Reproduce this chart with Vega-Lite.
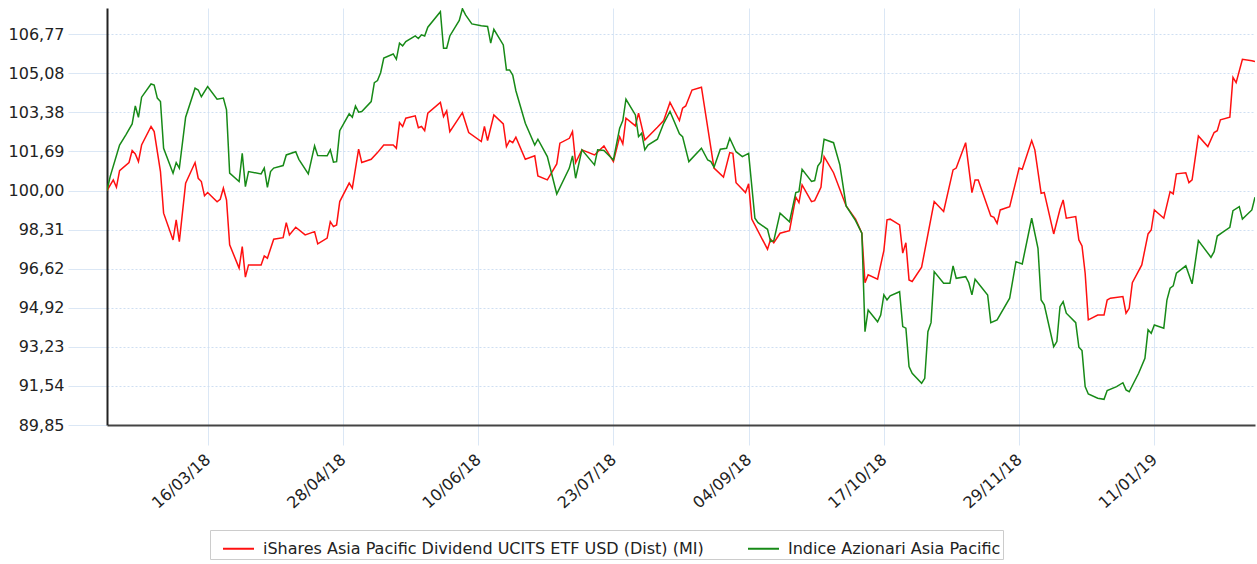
{
  "$schema": "https://vega.github.io/schema/vega-lite/v6.json",
  "autosize": {"type": "none"},
  "width": 1148,
  "height": 417,
  "padding": {"left": 107, "top": 8, "right": 2, "bottom": 139},
  "background": "#ffffff",
  "config": {"view": {"stroke": null}, "font": "DejaVu Sans"},
  "data": {"values": [
    {"d":"2018-02-12","s":"R","v":100.00},{"d":"2018-02-14","s":"R","v":100.46},{"d":"2018-02-15","s":"R","v":100.14},{"d":"2018-02-16","s":"R","v":100.86},{"d":"2018-02-19","s":"R","v":101.21},{"d":"2018-02-20","s":"R","v":101.73},{"d":"2018-02-21","s":"R","v":101.58},{"d":"2018-02-22","s":"R","v":101.25},{"d":"2018-02-23","s":"R","v":101.97},{"d":"2018-02-26","s":"R","v":102.77},{"d":"2018-02-27","s":"R","v":102.55},{"d":"2018-03-01","s":"R","v":100.82},{"d":"2018-03-02","s":"R","v":99.02},{"d":"2018-03-05","s":"R","v":97.86},{"d":"2018-03-06","s":"R","v":98.73},{"d":"2018-03-07","s":"R","v":97.79},{"d":"2018-03-09","s":"R","v":100.32},{"d":"2018-03-12","s":"R","v":101.21},{"d":"2018-03-13","s":"R","v":100.53},{"d":"2018-03-14","s":"R","v":100.39},{"d":"2018-03-15","s":"R","v":99.77},{"d":"2018-03-16","s":"R","v":99.91},{"d":"2018-03-19","s":"R","v":99.51},{"d":"2018-03-20","s":"R","v":99.62},{"d":"2018-03-21","s":"R","v":100.10},{"d":"2018-03-22","s":"R","v":99.59},{"d":"2018-03-23","s":"R","v":97.65},{"d":"2018-03-26","s":"R","v":96.64},{"d":"2018-03-27","s":"R","v":97.57},{"d":"2018-03-28","s":"R","v":96.25},{"d":"2018-03-29","s":"R","v":96.78},{"d":"2018-04-02","s":"R","v":96.78},{"d":"2018-04-03","s":"R","v":97.17},{"d":"2018-04-04","s":"R","v":97.07},{"d":"2018-04-06","s":"R","v":97.89},{"d":"2018-04-09","s":"R","v":97.96},{"d":"2018-04-10","s":"R","v":98.61},{"d":"2018-04-11","s":"R","v":98.08},{"d":"2018-04-13","s":"R","v":98.41},{"d":"2018-04-16","s":"R","v":98.08},{"d":"2018-04-19","s":"R","v":98.22},{"d":"2018-04-20","s":"R","v":97.69},{"d":"2018-04-23","s":"R","v":97.94},{"d":"2018-04-24","s":"R","v":98.65},{"d":"2018-04-25","s":"R","v":98.44},{"d":"2018-04-26","s":"R","v":98.51},{"d":"2018-04-27","s":"R","v":99.52},{"d":"2018-04-30","s":"R","v":100.32},{"d":"2018-05-01","s":"R","v":100.10},{"d":"2018-05-03","s":"R","v":101.79},{"d":"2018-05-04","s":"R","v":101.21},{"d":"2018-05-07","s":"R","v":101.35},{"d":"2018-05-09","s":"R","v":101.64},{"d":"2018-05-11","s":"R","v":101.97},{"d":"2018-05-14","s":"R","v":101.97},{"d":"2018-05-15","s":"R","v":101.83},{"d":"2018-05-16","s":"R","v":102.94},{"d":"2018-05-17","s":"R","v":102.77},{"d":"2018-05-18","s":"R","v":103.13},{"d":"2018-05-21","s":"R","v":103.23},{"d":"2018-05-22","s":"R","v":102.72},{"d":"2018-05-23","s":"R","v":102.77},{"d":"2018-05-24","s":"R","v":102.59},{"d":"2018-05-25","s":"R","v":103.35},{"d":"2018-05-29","s":"R","v":103.81},{"d":"2018-05-30","s":"R","v":103.20},{"d":"2018-05-31","s":"R","v":103.45},{"d":"2018-06-01","s":"R","v":102.55},{"d":"2018-06-05","s":"R","v":103.37},{"d":"2018-06-07","s":"R","v":102.51},{"d":"2018-06-11","s":"R","v":102.12},{"d":"2018-06-12","s":"R","v":102.77},{"d":"2018-06-13","s":"R","v":102.16},{"d":"2018-06-15","s":"R","v":103.27},{"d":"2018-06-18","s":"R","v":102.88},{"d":"2018-06-19","s":"R","v":101.90},{"d":"2018-06-20","s":"R","v":102.16},{"d":"2018-06-21","s":"R","v":102.07},{"d":"2018-06-22","s":"R","v":102.31},{"d":"2018-06-25","s":"R","v":101.35},{"d":"2018-06-28","s":"R","v":101.50},{"d":"2018-06-29","s":"R","v":100.63},{"d":"2018-07-02","s":"R","v":100.46},{"d":"2018-07-05","s":"R","v":101.15},{"d":"2018-07-06","s":"R","v":102.05},{"d":"2018-07-09","s":"R","v":102.26},{"d":"2018-07-10","s":"R","v":102.55},{"d":"2018-07-11","s":"R","v":101.21},{"d":"2018-07-13","s":"R","v":101.76},{"d":"2018-07-17","s":"R","v":101.54},{"d":"2018-07-20","s":"R","v":101.93},{"d":"2018-07-23","s":"R","v":101.25},{"d":"2018-07-25","s":"R","v":102.33},{"d":"2018-07-26","s":"R","v":102.02},{"d":"2018-07-27","s":"R","v":103.13},{"d":"2018-07-30","s":"R","v":102.80},{"d":"2018-07-31","s":"R","v":103.35},{"d":"2018-08-02","s":"R","v":102.19},{"d":"2018-08-06","s":"R","v":102.74},{"d":"2018-08-08","s":"R","v":103.03},{"d":"2018-08-10","s":"R","v":103.81},{"d":"2018-08-13","s":"R","v":103.03},{"d":"2018-08-14","s":"R","v":103.56},{"d":"2018-08-15","s":"R","v":103.66},{"d":"2018-08-17","s":"R","v":104.35},{"d":"2018-08-20","s":"R","v":104.47},{"d":"2018-08-24","s":"R","v":100.97},{"d":"2018-08-27","s":"R","v":100.58},{"d":"2018-08-29","s":"R","v":101.64},{"d":"2018-08-30","s":"R","v":101.61},{"d":"2018-08-31","s":"R","v":100.34},{"d":"2018-09-03","s":"R","v":99.91},{"d":"2018-09-04","s":"R","v":100.29},{"d":"2018-09-05","s":"R","v":98.76},{"d":"2018-09-10","s":"R","v":97.46},{"d":"2018-09-11","s":"R","v":97.89},{"d":"2018-09-12","s":"R","v":97.74},{"d":"2018-09-14","s":"R","v":98.15},{"d":"2018-09-17","s":"R","v":98.26},{"d":"2018-09-19","s":"R","v":99.71},{"d":"2018-09-20","s":"R","v":99.48},{"d":"2018-09-21","s":"R","v":100.24},{"d":"2018-09-24","s":"R","v":99.52},{"d":"2018-09-25","s":"R","v":99.56},{"d":"2018-09-27","s":"R","v":100.14},{"d":"2018-09-28","s":"R","v":101.47},{"d":"2018-10-01","s":"R","v":100.77},{"d":"2018-10-05","s":"R","v":99.33},{"d":"2018-10-08","s":"R","v":98.76},{"d":"2018-10-10","s":"R","v":98.15},{"d":"2018-10-11","s":"R","v":96.01},{"d":"2018-10-12","s":"R","v":96.35},{"d":"2018-10-15","s":"R","v":96.16},{"d":"2018-10-17","s":"R","v":97.40},{"d":"2018-10-18","s":"R","v":98.73},{"d":"2018-10-19","s":"R","v":98.76},{"d":"2018-10-22","s":"R","v":98.51},{"d":"2018-10-23","s":"R","v":97.29},{"d":"2018-10-24","s":"R","v":97.74},{"d":"2018-10-25","s":"R","v":96.13},{"d":"2018-10-26","s":"R","v":96.06},{"d":"2018-10-29","s":"R","v":96.68},{"d":"2018-11-02","s":"R","v":99.52},{"d":"2018-11-05","s":"R","v":99.09},{"d":"2018-11-08","s":"R","v":100.89},{"d":"2018-11-09","s":"R","v":100.97},{"d":"2018-11-12","s":"R","v":102.07},{"d":"2018-11-14","s":"R","v":99.91},{"d":"2018-11-15","s":"R","v":100.46},{"d":"2018-11-16","s":"R","v":100.46},{"d":"2018-11-20","s":"R","v":98.90},{"d":"2018-11-21","s":"R","v":98.84},{"d":"2018-11-22","s":"R","v":98.58},{"d":"2018-11-23","s":"R","v":99.16},{"d":"2018-11-26","s":"R","v":99.30},{"d":"2018-11-29","s":"R","v":100.97},{"d":"2018-11-30","s":"R","v":100.92},{"d":"2018-12-03","s":"R","v":102.16},{"d":"2018-12-04","s":"R","v":101.76},{"d":"2018-12-06","s":"R","v":99.88},{"d":"2018-12-07","s":"R","v":99.91},{"d":"2018-12-10","s":"R","v":98.12},{"d":"2018-12-12","s":"R","v":99.19},{"d":"2018-12-13","s":"R","v":99.59},{"d":"2018-12-14","s":"R","v":98.80},{"d":"2018-12-17","s":"R","v":98.87},{"d":"2018-12-18","s":"R","v":97.86},{"d":"2018-12-19","s":"R","v":97.60},{"d":"2018-12-20","s":"R","v":96.42},{"d":"2018-12-21","s":"R","v":94.40},{"d":"2018-12-24","s":"R","v":94.61},{"d":"2018-12-26","s":"R","v":94.61},{"d":"2018-12-27","s":"R","v":95.26},{"d":"2018-12-28","s":"R","v":95.34},{"d":"2019-01-01","s":"R","v":95.41},{"d":"2019-01-02","s":"R","v":94.69},{"d":"2019-01-03","s":"R","v":94.90},{"d":"2019-01-04","s":"R","v":96.01},{"d":"2019-01-07","s":"R","v":96.78},{"d":"2019-01-09","s":"R","v":98.12},{"d":"2019-01-10","s":"R","v":98.29},{"d":"2019-01-11","s":"R","v":99.16},{"d":"2019-01-14","s":"R","v":98.80},{"d":"2019-01-16","s":"R","v":99.95},{"d":"2019-01-17","s":"R","v":99.85},{"d":"2019-01-18","s":"R","v":100.72},{"d":"2019-01-21","s":"R","v":100.77},{"d":"2019-01-22","s":"R","v":100.34},{"d":"2019-01-23","s":"R","v":100.46},{"d":"2019-01-25","s":"R","v":102.36},{"d":"2019-01-28","s":"R","v":101.90},{"d":"2019-01-30","s":"R","v":102.51},{"d":"2019-01-31","s":"R","v":102.59},{"d":"2019-02-01","s":"R","v":103.06},{"d":"2019-02-04","s":"R","v":103.17},{"d":"2019-02-05","s":"R","v":104.90},{"d":"2019-02-06","s":"R","v":104.67},{"d":"2019-02-08","s":"R","v":105.68},{"d":"2019-02-11","s":"R","v":105.62},{"d":"2019-02-12","s":"R","v":105.58},
    {"d":"2018-02-12","s":"G","v":100.00},{"d":"2018-02-13","s":"G","v":100.60},{"d":"2018-02-16","s":"G","v":101.97},{"d":"2018-02-18","s":"G","v":102.41},{"d":"2018-02-20","s":"G","v":102.88},{"d":"2018-02-21","s":"G","v":103.66},{"d":"2018-02-22","s":"G","v":103.17},{"d":"2018-02-23","s":"G","v":104.04},{"d":"2018-02-26","s":"G","v":104.61},{"d":"2018-02-27","s":"G","v":104.56},{"d":"2018-02-28","s":"G","v":104.00},{"d":"2018-03-01","s":"G","v":103.85},{"d":"2018-03-02","s":"G","v":101.83},{"d":"2018-03-05","s":"G","v":100.75},{"d":"2018-03-06","s":"G","v":101.21},{"d":"2018-03-07","s":"G","v":100.97},{"d":"2018-03-09","s":"G","v":103.17},{"d":"2018-03-12","s":"G","v":104.43},{"d":"2018-03-13","s":"G","v":104.35},{"d":"2018-03-14","s":"G","v":104.06},{"d":"2018-03-16","s":"G","v":104.50},{"d":"2018-03-19","s":"G","v":103.95},{"d":"2018-03-21","s":"G","v":104.00},{"d":"2018-03-22","s":"G","v":103.49},{"d":"2018-03-23","s":"G","v":100.75},{"d":"2018-03-26","s":"G","v":100.39},{"d":"2018-03-27","s":"G","v":101.61},{"d":"2018-03-28","s":"G","v":100.17},{"d":"2018-03-29","s":"G","v":100.82},{"d":"2018-04-02","s":"G","v":100.72},{"d":"2018-04-03","s":"G","v":100.97},{"d":"2018-04-04","s":"G","v":100.14},{"d":"2018-04-05","s":"G","v":100.82},{"d":"2018-04-06","s":"G","v":100.97},{"d":"2018-04-09","s":"G","v":101.08},{"d":"2018-04-10","s":"G","v":101.54},{"d":"2018-04-13","s":"G","v":101.68},{"d":"2018-04-14","s":"G","v":101.35},{"d":"2018-04-17","s":"G","v":100.72},{"d":"2018-04-19","s":"G","v":101.93},{"d":"2018-04-20","s":"G","v":101.51},{"d":"2018-04-23","s":"G","v":101.50},{"d":"2018-04-24","s":"G","v":101.76},{"d":"2018-04-25","s":"G","v":101.23},{"d":"2018-04-26","s":"G","v":101.25},{"d":"2018-04-27","s":"G","v":102.59},{"d":"2018-04-30","s":"G","v":103.32},{"d":"2018-05-01","s":"G","v":103.17},{"d":"2018-05-02","s":"G","v":103.66},{"d":"2018-05-03","s":"G","v":103.39},{"d":"2018-05-04","s":"G","v":103.42},{"d":"2018-05-07","s":"G","v":103.85},{"d":"2018-05-08","s":"G","v":104.67},{"d":"2018-05-09","s":"G","v":104.76},{"d":"2018-05-10","s":"G","v":105.10},{"d":"2018-05-11","s":"G","v":105.73},{"d":"2018-05-14","s":"G","v":105.91},{"d":"2018-05-15","s":"G","v":105.68},{"d":"2018-05-16","s":"G","v":106.38},{"d":"2018-05-17","s":"G","v":106.26},{"d":"2018-05-18","s":"G","v":106.45},{"d":"2018-05-21","s":"G","v":106.69},{"d":"2018-05-22","s":"G","v":106.58},{"d":"2018-05-23","s":"G","v":106.74},{"d":"2018-05-24","s":"G","v":106.69},{"d":"2018-05-25","s":"G","v":107.07},{"d":"2018-05-29","s":"G","v":107.74},{"d":"2018-05-30","s":"G","v":106.16},{"d":"2018-05-31","s":"G","v":106.16},{"d":"2018-06-01","s":"G","v":106.69},{"d":"2018-06-04","s":"G","v":107.36},{"d":"2018-06-05","s":"G","v":107.87},{"d":"2018-06-06","s":"G","v":107.60},{"d":"2018-06-08","s":"G","v":107.21},{"d":"2018-06-11","s":"G","v":107.13},{"d":"2018-06-13","s":"G","v":107.10},{"d":"2018-06-14","s":"G","v":106.38},{"d":"2018-06-15","s":"G","v":106.98},{"d":"2018-06-18","s":"G","v":106.30},{"d":"2018-06-19","s":"G","v":105.22},{"d":"2018-06-20","s":"G","v":105.22},{"d":"2018-06-21","s":"G","v":105.00},{"d":"2018-06-22","s":"G","v":104.32},{"d":"2018-06-25","s":"G","v":102.91},{"d":"2018-06-28","s":"G","v":101.97},{"d":"2018-06-29","s":"G","v":102.22},{"d":"2018-07-02","s":"G","v":101.47},{"d":"2018-07-05","s":"G","v":99.85},{"d":"2018-07-09","s":"G","v":100.97},{"d":"2018-07-10","s":"G","v":101.50},{"d":"2018-07-11","s":"G","v":100.53},{"d":"2018-07-13","s":"G","v":101.76},{"d":"2018-07-17","s":"G","v":101.11},{"d":"2018-07-18","s":"G","v":101.76},{"d":"2018-07-20","s":"G","v":101.73},{"d":"2018-07-23","s":"G","v":101.32},{"d":"2018-07-25","s":"G","v":102.70},{"d":"2018-07-26","s":"G","v":103.03},{"d":"2018-07-27","s":"G","v":103.95},{"d":"2018-07-30","s":"G","v":103.27},{"d":"2018-07-31","s":"G","v":102.33},{"d":"2018-08-01","s":"G","v":102.48},{"d":"2018-08-02","s":"G","v":101.76},{"d":"2018-08-03","s":"G","v":101.97},{"d":"2018-08-06","s":"G","v":102.22},{"d":"2018-08-08","s":"G","v":102.91},{"d":"2018-08-10","s":"G","v":103.42},{"d":"2018-08-13","s":"G","v":102.45},{"d":"2018-08-14","s":"G","v":102.33},{"d":"2018-08-16","s":"G","v":101.25},{"d":"2018-08-20","s":"G","v":101.83},{"d":"2018-08-22","s":"G","v":101.32},{"d":"2018-08-23","s":"G","v":101.25},{"d":"2018-08-24","s":"G","v":101.01},{"d":"2018-08-26","s":"G","v":101.79},{"d":"2018-08-28","s":"G","v":101.83},{"d":"2018-08-29","s":"G","v":102.26},{"d":"2018-08-31","s":"G","v":101.68},{"d":"2018-09-02","s":"G","v":101.47},{"d":"2018-09-04","s":"G","v":101.61},{"d":"2018-09-06","s":"G","v":98.80},{"d":"2018-09-07","s":"G","v":98.61},{"d":"2018-09-10","s":"G","v":98.32},{"d":"2018-09-11","s":"G","v":97.79},{"d":"2018-09-12","s":"G","v":97.83},{"d":"2018-09-14","s":"G","v":99.02},{"d":"2018-09-17","s":"G","v":98.65},{"d":"2018-09-19","s":"G","v":99.91},{"d":"2018-09-20","s":"G","v":99.95},{"d":"2018-09-21","s":"G","v":100.92},{"d":"2018-09-24","s":"G","v":100.39},{"d":"2018-09-25","s":"G","v":100.43},{"d":"2018-09-26","s":"G","v":101.06},{"d":"2018-09-27","s":"G","v":101.25},{"d":"2018-09-28","s":"G","v":102.22},{"d":"2018-10-01","s":"G","v":102.07},{"d":"2018-10-03","s":"G","v":101.11},{"d":"2018-10-05","s":"G","v":99.33},{"d":"2018-10-08","s":"G","v":98.70},{"d":"2018-10-10","s":"G","v":98.15},{"d":"2018-10-11","s":"G","v":93.89},{"d":"2018-10-12","s":"G","v":94.83},{"d":"2018-10-15","s":"G","v":94.32},{"d":"2018-10-16","s":"G","v":94.61},{"d":"2018-10-17","s":"G","v":95.48},{"d":"2018-10-18","s":"G","v":95.26},{"d":"2018-10-19","s":"G","v":95.44},{"d":"2018-10-22","s":"G","v":95.62},{"d":"2018-10-23","s":"G","v":94.11},{"d":"2018-10-24","s":"G","v":94.04},{"d":"2018-10-25","s":"G","v":92.38},{"d":"2018-10-26","s":"G","v":92.09},{"d":"2018-10-29","s":"G","v":91.66},{"d":"2018-10-30","s":"G","v":91.87},{"d":"2018-10-31","s":"G","v":93.89},{"d":"2018-11-01","s":"G","v":94.28},{"d":"2018-11-02","s":"G","v":96.49},{"d":"2018-11-05","s":"G","v":95.99},{"d":"2018-11-07","s":"G","v":95.99},{"d":"2018-11-08","s":"G","v":96.74},{"d":"2018-11-09","s":"G","v":96.20},{"d":"2018-11-12","s":"G","v":96.27},{"d":"2018-11-13","s":"G","v":96.01},{"d":"2018-11-14","s":"G","v":95.48},{"d":"2018-11-15","s":"G","v":96.16},{"d":"2018-11-19","s":"G","v":95.48},{"d":"2018-11-20","s":"G","v":94.28},{"d":"2018-11-22","s":"G","v":94.40},{"d":"2018-11-26","s":"G","v":95.34},{"d":"2018-11-28","s":"G","v":96.92},{"d":"2018-11-30","s":"G","v":96.82},{"d":"2018-12-03","s":"G","v":98.80},{"d":"2018-12-05","s":"G","v":97.50},{"d":"2018-12-06","s":"G","v":95.26},{"d":"2018-12-07","s":"G","v":95.05},{"d":"2018-12-10","s":"G","v":93.24},{"d":"2018-12-11","s":"G","v":93.46},{"d":"2018-12-12","s":"G","v":94.97},{"d":"2018-12-13","s":"G","v":95.19},{"d":"2018-12-14","s":"G","v":94.69},{"d":"2018-12-17","s":"G","v":94.28},{"d":"2018-12-18","s":"G","v":93.22},{"d":"2018-12-19","s":"G","v":93.07},{"d":"2018-12-20","s":"G","v":91.51},{"d":"2018-12-21","s":"G","v":91.19},{"d":"2018-12-24","s":"G","v":91.01},{"d":"2018-12-26","s":"G","v":90.96},{"d":"2018-12-27","s":"G","v":91.34},{"d":"2018-12-30","s":"G","v":91.51},{"d":"2019-01-01","s":"G","v":91.68},{"d":"2019-01-02","s":"G","v":91.37},{"d":"2019-01-03","s":"G","v":91.29},{"d":"2019-01-06","s":"G","v":92.09},{"d":"2019-01-08","s":"G","v":92.74},{"d":"2019-01-09","s":"G","v":93.97},{"d":"2019-01-10","s":"G","v":93.82},{"d":"2019-01-11","s":"G","v":94.18},{"d":"2019-01-14","s":"G","v":94.04},{"d":"2019-01-15","s":"G","v":95.26},{"d":"2019-01-16","s":"G","v":95.77},{"d":"2019-01-17","s":"G","v":95.87},{"d":"2019-01-18","s":"G","v":96.42},{"d":"2019-01-21","s":"G","v":96.74},{"d":"2019-01-23","s":"G","v":95.96},{"d":"2019-01-25","s":"G","v":97.83},{"d":"2019-01-29","s":"G","v":97.11},{"d":"2019-01-30","s":"G","v":97.35},{"d":"2019-01-31","s":"G","v":98.03},{"d":"2019-02-02","s":"G","v":98.22},{"d":"2019-02-04","s":"G","v":98.41},{"d":"2019-02-05","s":"G","v":99.13},{"d":"2019-02-07","s":"G","v":99.30},{"d":"2019-02-08","s":"G","v":98.76},{"d":"2019-02-11","s":"G","v":99.16},{"d":"2019-02-12","s":"G","v":99.71}
  ]},
  "mark": {"type": "line", "strokeWidth": 1.5, "clip": true},
  "encoding": {
    "x": {
      "field": "d", "type": "temporal",
      "scale": {"type": "utc", "domain": [{"year": 2018, "month": 2, "date": 12, "utc": true}, {"year": 2019, "month": 2, "date": 12, "utc": true}], "nice": false},
      "axis": {
        "title": null,
        "values": [
          {"year": 2018, "month": 3, "date": 16, "utc": true},
          {"year": 2018, "month": 4, "date": 28, "utc": true},
          {"year": 2018, "month": 6, "date": 10, "utc": true},
          {"year": 2018, "month": 7, "date": 23, "utc": true},
          {"year": 2018, "month": 9, "date": 4, "utc": true},
          {"year": 2018, "month": 10, "date": 17, "utc": true},
          {"year": 2018, "month": 11, "date": 29, "utc": true},
          {"year": 2019, "month": 1, "date": 11, "utc": true}
        ],
        "format": "%d/%m/%y",
        "labelAngle": -42, "labelAlign": "right", "labelBaseline": "middle",
        "labelOverlap": false, "labelFontSize": 16, "labelColor": "#222222",
        "labelPadding": 12,
        "grid": true, "gridColor": "#dbe7f5", "gridWidth": 1,
        "ticks": true, "tickColor": "#dbe7f5", "tickSize": 20,
        "domainColor": "#444444", "domainWidth": 2
      }
    },
    "y": {
      "field": "v", "type": "quantitative",
      "scale": {"domain": [89.85, 107.9], "nice": false, "zero": false},
      "axis": {
        "title": null,
        "values": [89.85, 91.54, 93.23, 94.92, 96.62, 98.31, 100, 101.69, 103.38, 105.08, 106.77],
        "labelExpr": "replace(format(datum.value, '.2f'), '.', ',')",
        "labelFontSize": 16, "labelColor": "#222222", "labelPadding": 4,
        "grid": true, "gridColor": "#cfdff2", "gridDash": [2, 2], "gridWidth": 1,
        "ticks": true, "tickColor": "#dbe7f5", "tickSize": 39,
        "domainColor": "#222222", "domainWidth": 2
      }
    },
    "color": {
      "field": "s", "type": "nominal",
      "scale": {"domain": ["R", "G"], "range": ["#ff1010", "#178a17"]},
      "legend": {
        "title": null, "orient": "none", "legendX": 103, "legendY": 522,
        "direction": "horizontal",
        "labelExpr": "datum.label == 'R' ? 'iShares Asia Pacific Dividend UCITS ETF USD (Dist) (MI)' : 'Indice Azionari Asia Pacific'",
        "symbolType": "stroke", "symbolSize": 961, "symbolStrokeWidth": 2, "symbolOffset": 10,
        "labelFontSize": 16, "labelColor": "#222222", "labelOffset": 8, "labelLimit": 0,
        "strokeColor": "#cccccc", "fillColor": "#ffffff", "padding": 2,
        "columnPadding": 33
      }
    }
  }
}
